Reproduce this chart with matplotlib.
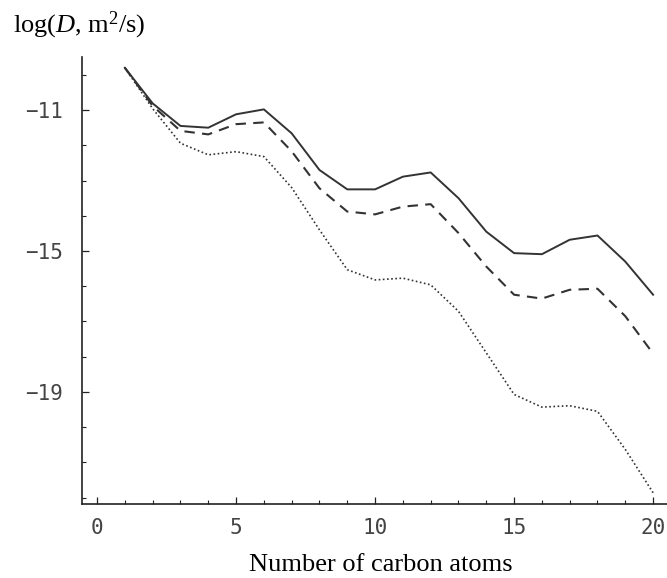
import matplotlib
matplotlib.use('Agg')
import matplotlib.pyplot as plt
from matplotlib.ticker import MultipleLocator

# Data
carbon = list(range(1, 21))
logd_solid = [-9.8, -10.81, -11.45, -11.5, -11.12, -10.98, -11.66, -12.70, -13.25, -13.25,
              -12.89, -12.77, -13.5, -14.45, -15.06, -15.09, -14.68, -14.56, -15.3, -16.24]
logd_dashed = [-9.8, -10.88, -11.59, -11.69, -11.4, -11.35, -12.17, -13.22, -13.88, -13.96,
               -13.74, -13.67, -14.49, -15.44, -16.24, -16.35, -16.1, -16.07, -16.85, -17.91]
logd_dotted = [-9.8, -10.96, -11.94, -12.27, -12.18, -12.32, -13.2, -14.4, -15.53, -15.82,
               -15.77, -15.96, -16.71, -17.89, -19.07, -19.43, -19.39, -19.55, -20.63, -21.86]
x_ticks = [0, 5, 10, 15, 20]
y_ticks = [-11, -15, -19]

line_color = '#333333'

# serif mathtext so the italic D matches the Times-like label
plt.rcParams['mathtext.fontset'] = 'custom'
plt.rcParams['mathtext.rm'] = 'Liberation Serif'
plt.rcParams['mathtext.it'] = 'Liberation Serif:italic'

fig = plt.figure(figsize=(6.67, 5.78), dpi=100)
ax = fig.add_axes([0.123, 0.128, 0.877, 0.773])

ax.plot(carbon, logd_solid, color=line_color, lw=1.4, linestyle='-')
ax.plot(carbon, logd_dashed, color=line_color, lw=1.5, linestyle=(0, (5, 3.5)))
ax.plot(carbon, logd_dotted, color=line_color, lw=1.2, linestyle=(0, (1, 1.5)))

ax.set_xlim(-0.54, 20.5)
ax.set_ylim(-22.18, -9.5)

ax.spines['top'].set_visible(False)
ax.spines['right'].set_visible(False)
for s in ['left', 'bottom']:
    ax.spines[s].set_linewidth(1.2)
    ax.spines[s].set_color('#222222')

ax.set_xticks(x_ticks)
ax.set_yticks(y_ticks)
ax.xaxis.set_minor_locator(MultipleLocator(1))
ax.yaxis.set_minor_locator(MultipleLocator(1))
ax.tick_params(which='major', direction='in', length=5, width=0.9, color='#222222')
ax.tick_params(which='minor', direction='in', length=3, width=0.8, color='#222222')
ax.tick_params(axis='x', which='major', pad=10)
ax.tick_params(axis='y', which='major', pad=14)
for lab in ax.get_xticklabels() + ax.get_yticklabels():
    lab.set_fontfamily('DejaVu Sans Mono')
    lab.set_fontsize(15)
    lab.set_color('#444444')

fig.text(0.0195, 0.957, r'log($\mathit{D}$, m$^2$/s)', fontsize=19, family='Liberation Serif',
         ha='left', va='center')
fig.text(0.571, 0.0225, 'Number of carbon atoms', fontsize=19, family='Liberation Serif',
         ha='center', va='center')

fig.savefig('out.png', dpi=100)
